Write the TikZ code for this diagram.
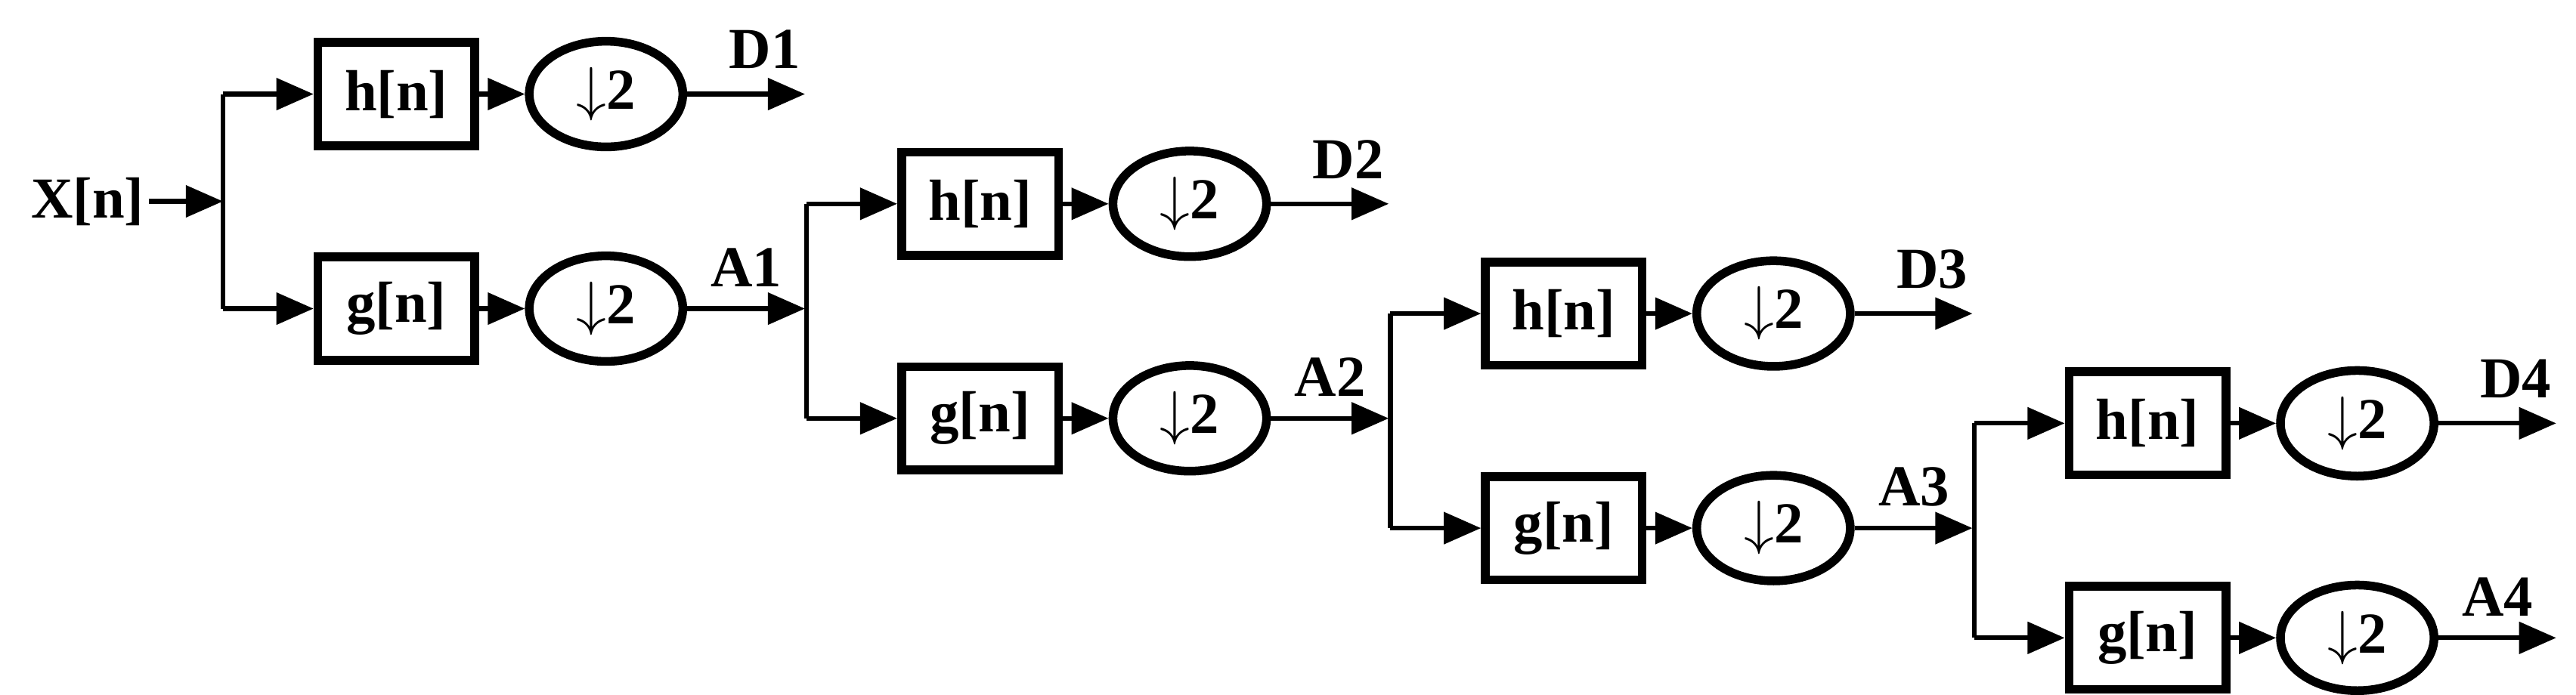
\documentclass[tikz,border=0pt]{standalone}
\usepackage{fontspec}
\setmainfont{Liberation Serif}
\usetikzlibrary{arrows.meta,positioning,shapes.geometric}
\begin{document}
\begin{tikzpicture}[
                filt/.style = {draw, line width = 3pt, minimum width = 1.9cm, minimum height = 1.25cm, inner sep = 0mm, font = \fontsize{20}{20}\selectfont\bfseries},
                down/.style = {draw, line width = 3pt, ellipse, minimum width = 1.86cm, minimum height = 1.28cm, inner sep = 0mm, font = \fontsize{20}{20}\selectfont\bfseries},
                lab/.style = {font = \fontsize{20}{20}\selectfont\bfseries},
                arr/.style = {draw, line width = 1.6pt, -{Triangle[length = 4.5mm, width = 3.8mm]}},
                wire/.style = {draw, line width = 1.6pt},
            ]
            \useasboundingbox (0,0) rectangle (31.2,8.42);
            \node (xn) [lab, anchor = east, inner sep = 0.5mm] at (1.8, 5.98) {X[n]};
            \coordinate (j0) at (2.7, 5.98);
            \path[arr] (xn) -- (j0);

            \foreach \i in {0,...,3} {
                \pgfmathsetmacro{\jx}{2.7 + 7.07*\i}
                \pgfmathsetmacro{\jy}{5.98 - 1.33*\i}
                \pgfmathtruncatemacro{\n}{\i + 1}
                \coordinate (jt\i) at (\jx, \jy + 1.3);
                \coordinate (jb\i) at (\jx, \jy - 1.3);
                \node (h\i) [filt] at (\jx + 2.1, \jy + 1.3) {h[n]};
                \node (g\i) [filt] at (\jx + 2.1, \jy - 1.3) {g[n]};
                \node (dh\i) [down] at (\jx + 4.64, \jy + 1.3) {$\downarrow$2};
                \node (dg\i) [down] at (\jx + 4.64, \jy - 1.3) {$\downarrow$2};
                \coordinate (d\i) at (\jx + 7.05, \jy + 1.3);
                \coordinate (a\i) at (\jx + 7.05, \jy - 1.3);

                \path[wire] (jt\i) -- (jb\i);
                \path[arr] (jt\i) -- (h\i);
                \path[arr] (jb\i) -- (g\i);
                \path[arr] (h\i) -- (dh\i);
                \path[arr] (g\i) -- (dg\i);
                \path[arr] (dh\i) -- (d\i);
                \path[arr] (dg\i) -- (a\i);

                \node (dl\i) [lab] at (\jx + 6.56, \jy + 1.84) {D\n};
                \node (al\i) [lab] at (\jx + 6.34, \jy - 0.8) {A\n};
            }
        \end{tikzpicture}
\end{document}
